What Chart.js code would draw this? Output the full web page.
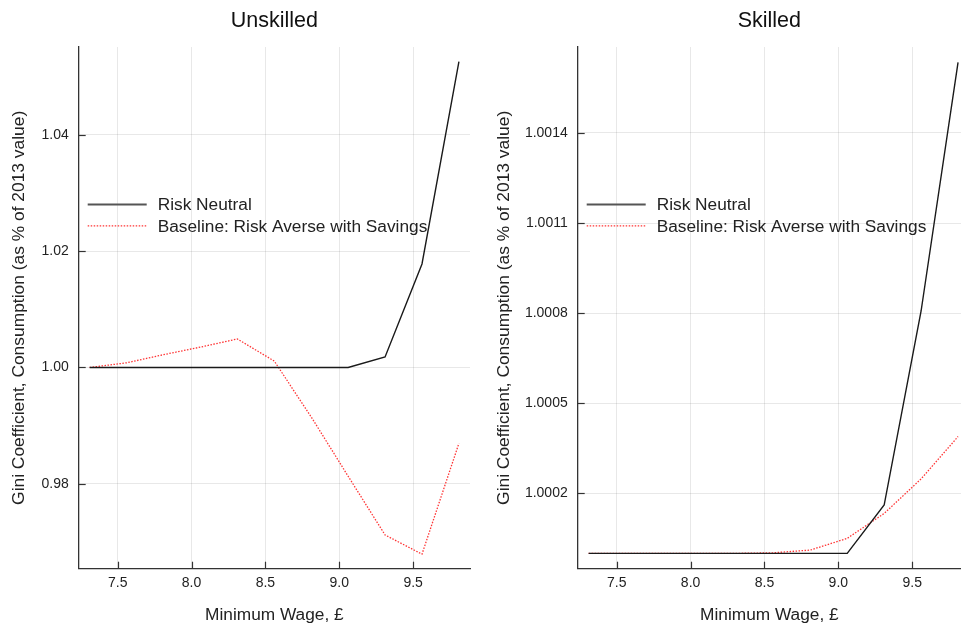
<!DOCTYPE html>
<html>
<head>
<meta charset="utf-8">
<script src="https://cdn.jsdelivr.net/npm/chart.js@4.4.1/dist/chart.umd.min.js"></script>
<style>
  html, body { margin: 0; padding: 0; background: #fff; }
  #wrap { position: relative; width: 961px; height: 627px; }
  canvas { position: absolute; top: 0; }
</style>
</head>
<body>
<div id="wrap">
  <canvas id="unskilled" width="480" height="627" style="left:0"></canvas>
  <canvas id="skilled" width="481" height="627" style="left:480px"></canvas>
</div>
<script>
// minimum wage grid (£)
const wages = [7.31, 7.56, 7.81, 8.06, 8.31, 8.56, 8.81, 9.06, 9.31, 9.56, 9.81];

// Gini coefficient of consumption, relative to 2013
const unskilledNeutral  = [1.0, 1.0, 1.0, 1.0, 1.0, 1.0, 1.0, 1.0, 1.0018, 1.0178, 1.0526];
const unskilledBaseline = [1.0, 1.0008, 1.0022, 1.0035, 1.0049, 1.0011, 0.9915, 0.9813, 0.9712, 0.9679, 0.98695];
const skilledNeutral    = [1.0, 1.0, 1.0, 1.0, 1.0, 1.0, 1.0, 1.0, 1.000161, 1.000807, 1.001635];
const skilledBaseline   = [1.0, 1.0, 1.0, 1.0, 1.0, 1.000002, 1.000011, 1.00005, 1.000133, 1.000248, 1.000389];

const seriesNames = ["Risk Neutral", "Baseline: Risk Averse with Savings"];
const wageTicks = [7.5, 8.0, 8.5, 9.0, 9.5];
const unskilledTicks = [0.98, 1.00, 1.02, 1.04];
const skilledTicks = [1.0002, 1.0005, 1.0008, 1.0011, 1.0014];

const FONT = '"Liberation Sans", Arial, sans-serif';
Chart.defaults.font.family = FONT;
Chart.defaults.color = "#222";

const NEUTRAL_COLOR = "#1a1a1a";
const BASELINE_COLOR = "rgba(255,0,0,0.8)";

function pts(vals) {
  return wages.map((w, i) => ({ x: w, y: vals[i] }));
}

// title above plot area, legend inside it, inward tick marks
const decor = {
  id: "decor",
  afterDatasetsDraw(chart, args, opts) {
    const ctx = chart.ctx;
    const area = chart.chartArea;
    ctx.save();

    // tick marks pointing into the plot
    ctx.strokeStyle = "#333";
    ctx.lineWidth = 1.2;
    const xs = chart.scales.x, ys = chart.scales.y;
    xs.ticks.forEach((t) => {
      const px = Math.round(xs.getPixelForValue(t.value)) + 0.5;
      ctx.beginPath();
      ctx.moveTo(px, area.bottom);
      ctx.lineTo(px, area.bottom - 7);
      ctx.stroke();
    });
    ys.ticks.forEach((t) => {
      const py = Math.round(ys.getPixelForValue(t.value)) + 0.5;
      ctx.beginPath();
      ctx.moveTo(area.left, py);
      ctx.lineTo(area.left + 7, py);
      ctx.stroke();
    });

    // title
    ctx.fillStyle = "#111";
    ctx.font = "21.5px " + FONT;
    ctx.textAlign = "center";
    ctx.textBaseline = "middle";
    ctx.fillText(opts.title, (area.left + area.right) / 2, 21);

    // legend
    ctx.font = "17.3px " + FONT;
    ctx.textAlign = "left";
    chart.data.datasets.forEach((ds, i) => {
      const y = area.top + 157.5 + i * 21.4;
      ctx.beginPath();
      ctx.setLineDash(ds.borderDash || []);
      ctx.strokeStyle = i === 0 ? "#555" : ds.borderColor;
      ctx.lineWidth = i === 0 ? 2 : 1.3;
      ctx.moveTo(area.left + 9, y);
      ctx.lineTo(area.left + 68, y);
      ctx.stroke();
      ctx.setLineDash([]);
      ctx.fillStyle = "#222";
      ctx.fillText(ds.label, area.left + 79, y + 1);
    });
    ctx.restore();
  },
};

function makePanel(id, title, neutral, baseline, yTicks, yMin, yMax, xMax, yWidth, yTitlePad, padRight, digits) {
  return new Chart(document.getElementById(id), {
    type: "line",
    data: {
      datasets: [
        {
          label: seriesNames[0],
          data: pts(neutral),
          borderColor: NEUTRAL_COLOR,
          borderWidth: 1.4,
          pointRadius: 0,
          tension: 0,
        },
        {
          label: seriesNames[1],
          data: pts(baseline),
          borderColor: BASELINE_COLOR,
          borderWidth: 1.3,
          borderDash: [1.5, 1.5],
          pointRadius: 0,
          tension: 0,
        },
      ],
    },
    options: {
      responsive: false,
      animation: false,
      layout: { padding: { top: 47, right: padRight, left: 0, bottom: 0 } },
      plugins: {
        legend: { display: false },
        title: { display: false },
        tooltip: { enabled: false },
        decor: { title: title },
      },
      scales: {
        x: {
          type: "linear",
          min: 7.236,
          max: xMax,
          afterBuildTicks: (s) => { s.ticks = wageTicks.map((v) => ({ value: v })); },
          afterFit: (s) => { s.height = 58.3; },
          grid: { color: "rgba(0,0,0,0.09)", drawTicks: false },
          border: { color: "#333", width: 1.3 },
          ticks: {
            padding: 6,
            font: { size: 14 },
            color: "#222",
            callback: (v) => Number(v).toFixed(1),
          },
          title: {
            display: true,
            text: "Minimum Wage, £",
            font: { size: 17.3 },
            color: "#222",
            padding: { top: 0, bottom: 1 },
          },
        },
        y: {
          type: "linear",
          min: yMin,
          max: yMax,
          afterBuildTicks: (s) => { s.ticks = yTicks.map((v) => ({ value: v })); },
          afterFit: (s) => { s.width = yWidth; },
          grid: { color: "rgba(0,0,0,0.09)", drawTicks: false },
          border: { color: "#333", width: 1.3 },
          ticks: {
            padding: 10,
            font: { size: 14 },
            color: "#222",
            callback: (v) => Number(v).toFixed(digits),
          },
          title: {
            display: true,
            text: "Gini Coefficient, Consumption (as % of 2013 value)",
            font: { size: 17.4 },
            color: "#222",
            padding: { top: yTitlePad, bottom: 0 },
          },
        },
      },
    },
    plugins: [decor],
  });
}

makePanel("unskilled", "Unskilled", unskilledNeutral, unskilledBaseline,
  unskilledTicks, 0.9654, 1.0551, 9.885, 78.7, 8.4, 10, 2);
makePanel("skilled", "Skilled", skilledNeutral, skilledBaseline,
  skilledTicks, 0.999949, 1.001686, 9.83, 97.7, 13.6, 0, 4);
</script>
</body>
</html>
